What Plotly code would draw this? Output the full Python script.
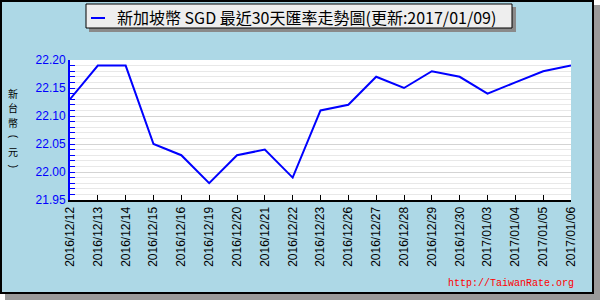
import plotly.graph_objects as go

dates = ["2016/12/12", "2016/12/13", "2016/12/14", "2016/12/15", "2016/12/16",
         "2016/12/19", "2016/12/20", "2016/12/21", "2016/12/22", "2016/12/23",
         "2016/12/26", "2016/12/27", "2016/12/28", "2016/12/29", "2016/12/30",
         "2017/01/03", "2017/01/04", "2017/01/05", "2017/01/06"]
rates = [22.13, 22.19, 22.19, 22.05, 22.03, 21.98, 22.03, 22.04, 21.99, 22.11,
         22.12, 22.17, 22.15, 22.18, 22.17, 22.14, 22.16, 22.18, 22.19]
title_text = "新加坡幣 SGD 最近30天匯率走勢圖(更新:2017/01/09)"
y_title_chars = ["新", "台", "幣", "(", "元", ")"]
watermark = "http://TaiwanRate.org"

W, H = 600, 300
L, R, T, B = 70, 29, 60, 100
PW, PH = W - L - R, H - T - B

def px(x):
    return (x - L) / PW

def py(y):
    return (H - B - y) / PH

fig = go.Figure()
fig.add_trace(go.Scatter(
    x=list(range(len(dates))), y=rates, mode="lines",
    line=dict(color="#0000ff", width=2), showlegend=False, hoverinfo="skip"))

shapes = [
    dict(type="rect", xref="paper", yref="paper", x0=px(5), x1=px(600), y0=py(5), y1=py(300),
         fillcolor="#9a9a9a", line=dict(width=0), layer="below"),
    dict(type="rect", xref="paper", yref="paper", x0=px(1), x1=px(593), y0=py(1), y1=py(293),
         fillcolor="#add8e6", line=dict(color="black", width=2), layer="below"),
    dict(type="rect", xref="paper", yref="paper", x0=0, x1=1, y0=0, y1=1,
         fillcolor="white", line=dict(width=0), layer="below"),
    dict(type="rect", xref="paper", yref="paper", x0=px(89), x1=px(516), y0=py(7), y1=py(32),
         fillcolor="#8a8a8a", line=dict(width=0), layer="below"),
    dict(type="rect", xref="paper", yref="paper", x0=px(86), x1=px(512), y0=py(4), y1=py(28),
         fillcolor="#eeeeee", line=dict(color="black", width=1), layer="below"),
    dict(type="line", xref="paper", yref="paper", x0=px(91), x1=px(105), y0=py(18), y1=py(18),
         line=dict(color="#0000ff", width=2), layer="above"),
]

annotations = [
    dict(text=title_text, xref="paper", yref="paper", x=px(115), y=py(17),
         xanchor="left", yanchor="middle", showarrow=False,
         font=dict(family="Liberation Sans Narrow, Noto Sans CJK TC", size=16, color="black")),
    dict(text=watermark, xref="paper", yref="paper", x=px(576), y=py(283),
         xanchor="right", yanchor="middle", showarrow=False,
         font=dict(family="Liberation Mono", size=10, color="#ff0000")),
]
step = 14.5
y_first = 129.5 - step * (len(y_title_chars) - 1) / 2
for i, ch in enumerate(y_title_chars):
    rot = ch in "()"
    annotations.append(dict(
        text=ch, xref="paper", yref="paper", x=px(13), y=py(y_first + i * step),
        xanchor="center", yanchor="middle", showarrow=False,
        textangle=90 if rot else 0,
        font=dict(family="Liberation Sans" if rot else "Noto Sans CJK TC",
                  size=10, color="black")))

fig.update_layout(
    width=W, height=H, margin=dict(l=L, r=R, t=T, b=B, pad=0),
    paper_bgcolor="white", plot_bgcolor="white",
    shapes=shapes, annotations=annotations,
    xaxis=dict(range=[0, len(dates) - 1], tickmode="array",
               tickvals=list(range(len(dates))), ticktext=dates,
               tickangle=-90, ticks="inside", ticklen=5, tickcolor="black", tickwidth=1,
               showline=True, linecolor="black", linewidth=2, showgrid=False, zeroline=False,
               tickfont=dict(family="Liberation Sans", size=12, color="black")),
    yaxis=dict(range=[21.95, 22.20], tick0=21.95, dtick=0.05, tickformat=".2f",
               ticks="inside", ticklen=5, tickcolor="#0000ff", tickwidth=1,
               showline=True, linecolor="#0000ff", linewidth=2, zeroline=False,
               showgrid=True, gridcolor="#d4d4d4", gridwidth=1,
               minor=dict(dtick=0.01, tick0=21.95, ticks="inside", ticklen=5,
                          tickcolor="#0000ff", showgrid=True, gridcolor="#e8e8e8"),
               tickfont=dict(family="Liberation Sans", size=12, color="#0000ff")),
)

fig.write_html("out.html")
